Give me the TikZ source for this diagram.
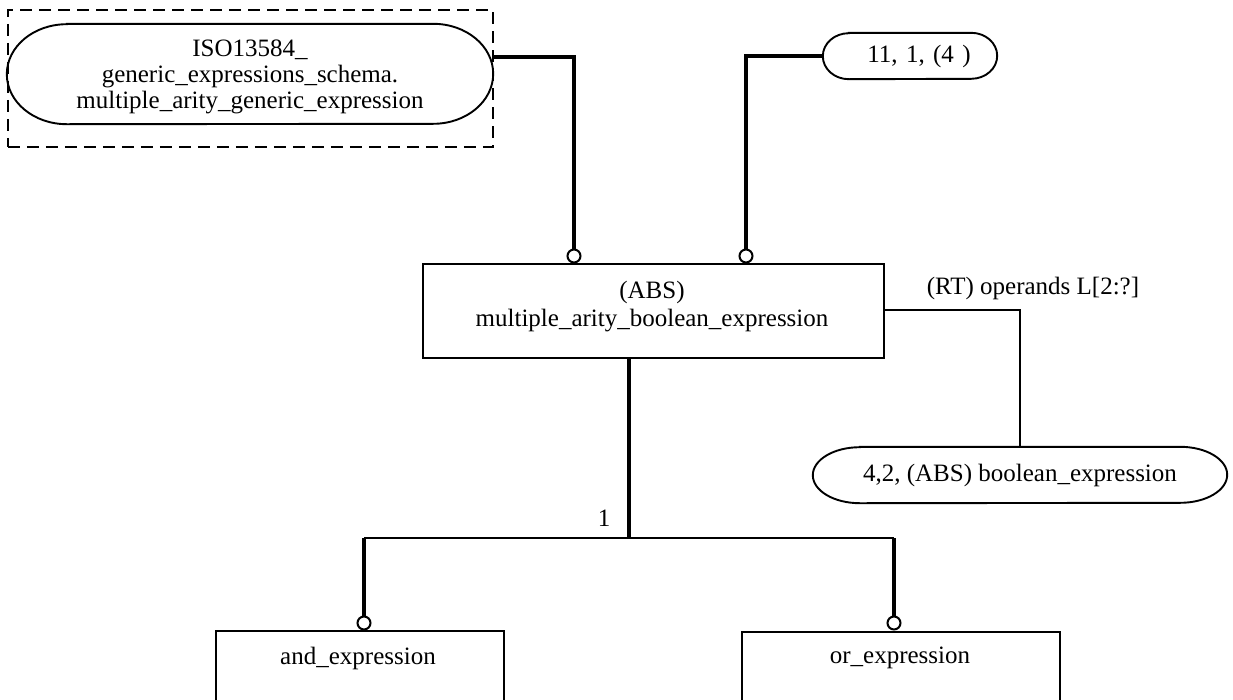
\documentclass[tikz,border=0pt]{standalone}
\usepackage{fontspec}
\setmainfont{Liberation Serif}
\begin{document}
\begin{tikzpicture}[x=1pt,y=-1pt,
  thinln/.style={line width=1.9pt},
  medln/.style={line width=2.6pt},
  thickln/.style={line width=4.3pt},
  lbl/.style={font=\fontsize{25}{28}\selectfont, align=center, inner sep=0pt},
  boxnode/.style={draw, line width=1.9pt, anchor=north west, inner sep=0pt},
  dashbox/.style={draw, line width=1.8pt, dash pattern=on 12pt off 7pt, anchor=north west, inner sep=0pt},
  circ/.style={circle, draw, fill=white, line width=2pt, minimum size=13pt, inner sep=0pt},
  stad/.style={inner sep=0pt, align=center, font=\fontsize{25}{26}\selectfont}]
\useasboundingbox (0,0) rectangle (1233,699);
\clip (0,0) rectangle (1233,699);
\fill[white] (0,0) rectangle (1233,699);

% dashed frame
\node[dashbox, minimum width=485pt, minimum height=137pt] (frame) at (7,9) {};

% stadium nodes
\node[stad, minimum width=486pt, minimum height=100pt] (e1) at (250,74) {};
\draw[thinln] ([xshift=60pt]e1.north west) -- ([xshift=-60pt]e1.north east)
  arc[start angle=90, end angle=-90, x radius=60pt, y radius=50pt]
  -- ([xshift=60pt]e1.south west)
  arc[start angle=270, end angle=90, x radius=60pt, y radius=50pt] -- cycle;
\node[stad] (e1t) at (250,77)
  {ISO13584\_\\generic\_expressions\_schema.\\multiple\_arity\_generic\_expression};

\node[stad, minimum width=174pt, minimum height=46pt, text width=174pt] (e2) at (910,56)
  {\hspace*{18pt}11, 1, (4 )};
\draw[thinln] ([xshift=26pt]e2.north west) -- ([xshift=-26pt]e2.north east)
  arc[start angle=90, end angle=-90, x radius=26pt, y radius=23pt]
  -- ([xshift=26pt]e2.south west)
  arc[start angle=270, end angle=90, x radius=26pt, y radius=23pt] -- cycle;

\node[stad, minimum width=414pt, minimum height=56pt] (e3) at (1020,475)
  {4,2, (ABS) boolean\_expression};
\draw[thinln] ([xshift=47pt]e3.north west) -- ([xshift=-47pt]e3.north east)
  arc[start angle=90, end angle=-90, x radius=47pt, y radius=28pt]
  -- ([xshift=47pt]e3.south west)
  arc[start angle=270, end angle=90, x radius=47pt, y radius=28pt] -- cycle;

% entity boxes
\node[boxnode, minimum width=461pt, minimum height=94pt] (m) at (422,263) {};
\node[lbl] (mt) at (652,307) {(ABS)\\multiple\_arity\_boolean\_expression};
\node[boxnode, minimum width=288pt, minimum height=120pt] (andb) at (215,630) {};
\node[lbl] (andt) at (358,658) {and\_expression};
\node[boxnode, minimum width=318pt, minimum height=120pt] (orb) at (741,631) {};
\node[lbl] (ort) at (900,658) {or\_expression};

% labels
\node[lbl] (rt) at (1033,288) {(RT) operands L[2:?]};
\node[lbl] (one) at (604,518) {1};

% junction
\coordinate (j) at (629,538);

% circles
\node[circ] (o1) at (574,256) {};
\node[circ] (o2) at (746,256) {};
\node[circ] (o3) at (364,623) {};
\node[circ] (o4) at (894,623) {};

% connectors
\draw[thickln] ([yshift=17pt]e1.east) -| (o1.north);
\draw[thickln] (e2.west) -| (o2.north);
\draw[thickln] (m.south -| j) -- (j);
\draw[medln] (o3 |- j) -- (o4 |- j);
\draw[thickln] (o3 |- j) -- (o3.north);
\draw[thickln] (o4 |- j) -- (o4.north);
\draw[thinln] ([yshift=1pt]m.east) -| (e3.north);
\end{tikzpicture}
\end{document}
